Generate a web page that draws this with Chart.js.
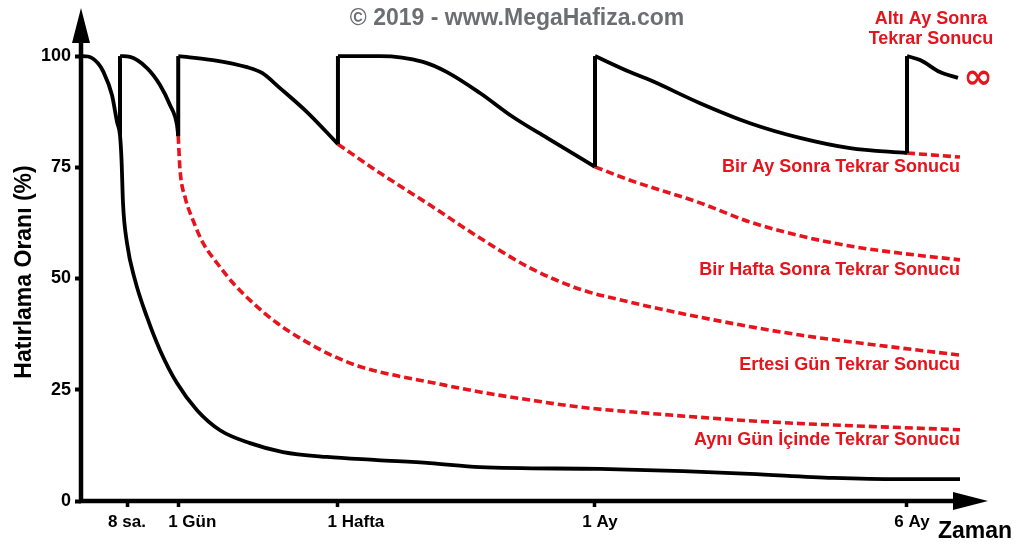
<!DOCTYPE html>
<html>
<head>
<meta charset="utf-8">
<script src="https://cdn.jsdelivr.net/npm/chart.js@4.4.1/dist/chart.umd.min.js"></script>
<style>
	html, body { margin: 0; padding: 0; background: #fff; }
	canvas { display: block; }
</style>
</head>
<body>
<canvas id="curve" width="1024" height="553"></canvas>
<script>

// time axis: position along the axis (0 = origin, 100 = arrow tip)
const tickPos   = [ 5.18, 10.72, 28.33, 56.67, 90.96 ];
const tickText  = [ '8 sa.', '1 Gün', '1 Hafta', '1 Ay', '6 Ay' ];
const tickShift = [ -1, 14, 18, 5, 6 ];	// labels are not centred on their ticks in the original
const yTicks    = [ 0, 25, 50, 75, 100 ];

// no review at all
const forget = [ [0,100], [0.77,99.9], [1.87,98.4], [2.43,96.6], [3.42,91.2], [3.97,85.2], [4.30,82.2], [4.47,76.6],
	[4.63,67.0], [5.07,58.0], [5.95,49.7], [7.28,41.3], [8.71,33.9], [10.58,26.5], [12.79,20.4],
	[15.33,15.9], [18.63,13.0], [22.27,11.0], [27.12,9.9], [32.64,9.2], [38.48,8.5], [43.99,7.6],
	[57.22,7.2], [66.37,6.7], [73.76,6.1], [82.91,5.2], [90.30,4.9], [96.91,4.9] ];

// black path after each review
const review8h = [ [4.30,100], [5.40,99.8], [7.28,97.3], [8.71,93.5], [9.81,89.0], [10.58,84.5], [10.72,82.0] ];
const review1d = [ [10.72,100], [14.55,99.1], [18.30,97.5], [19.96,96.2], [21.94,92.8], [24.92,87.4], [28.33,80.2] ];
const review1w = [ [28.33,100], [32.97,100], [37.71,98.7], [40.35,96.4], [43.99,91.7], [47.63,86.3], [51.38,81.6], [56.67,75.1] ];
const review1m = [ [56.67,100], [60.53,96.4], [62.73,94.6], [68.25,89.4], [73.76,84.9], [79.27,81.6], [84.78,79.3], [91.07,78.2] ];
const review6m = [ [91.07,100], [92.51,99.1], [94.71,96.4], [96.69,95.1] ];

// vertical jumps back to 100 at each review
const dropX   = [ 4.30, 10.72, 28.33, 56.67, 91.07 ];
const dropLow = [ 82.2, 82.0, 80.2, 75.1, 78.2 ];

// red dashed: what happens if the reviews stop there
const fadeSameDay = [ [10.72,82.0], [10.92,74.4], [11.47,68.3], [12.35,63.1], [13.45,58.0], [14.99,53.5],
	[16.76,49.0], [18.96,44.5], [21.61,40.0], [24.48,36.2], [27.78,32.6], [31.09,30.0], [34.5,28.3],
	[38.48,26.7], [43.99,24.5], [49.50,22.7], [55.01,21.1], [60.86,20.0], [75.63,17.8], [96.91,16.0] ];
const fadeNextDay = [ [28.33,80.2], [32.97,73.7], [38.48,66.5], [43.99,59.1], [49.50,52.4], [55.01,47.6],
	[60.53,44.7], [68.25,41.3], [79.27,37.3], [90.30,34.4], [96.91,32.8] ];
const fadeWeek  = [ [56.67,75.1], [60.53,72.1], [68.25,67.0], [73.76,62.7], [79.27,59.6], [84.78,57.3], [90.30,55.7], [96.91,54.2] ];
const fadeMonth = [ [91.07,78.2], [96.91,77.3] ];

const fadeLabels = [ 'Aynı Gün İçinde Tekrar Sonucu', 'Ertesi Gün Tekrar Sonucu', 'Bir Hafta Sonra Tekrar Sonucu', 'Bir Ay Sonra Tekrar Sonucu' ];
const topLabel = [ 'Altı Ay Sonra', 'Tekrar Sonucu' ];

const FONT = '"Liberation Sans", Arial, Helvetica, sans-serif';
const RED = '#e5141d';

const pts = a => a.map( p => ( { x: p[0], y: p[1] } ) );

const blackLine = a => ( {
	data: pts( a ),
	borderColor: '#000',
	borderWidth: 3.8,
	borderJoinStyle: 'round',
	cubicInterpolationMode: 'monotone',
	pointRadius: 0,
	fill: false
} );

const redLine = a => ( Object.assign( blackLine( a ), {
	borderColor: RED,
	borderWidth: 3.6,
	borderDash: [ 8, 4 ],
	borderJoinStyle: 'miter'
} ) );

const fades = [ fadeSameDay, fadeNextDay, fadeWeek, fadeMonth ];

const datasets = [
	blackLine( forget ),
	blackLine( review8h ), blackLine( review1d ), blackLine( review1w ), blackLine( review1m ), blackLine( review6m ),
	...dropX.map( ( x, i ) => ( {
		data: [ { x: x, y: dropLow[i] }, { x: x, y: 100 } ],
		borderColor: '#000', borderWidth: 4, pointRadius: 0, tension: 0, fill: false
	} ) ),
	...fades.map( redLine )
];

const decor = {
	id: 'decor',
	afterDatasetsDraw( chart ) {
		const { ctx, chartArea: a, scales: { x, y } } = chart;
		ctx.save();

		// axes with arrow heads
		ctx.strokeStyle = '#000';
		ctx.fillStyle = '#000';
		ctx.lineWidth = 4.5;
		ctx.beginPath();
		ctx.moveTo( a.left, a.bottom + 2 );
		ctx.lineTo( a.left, a.top + 34 );
		ctx.moveTo( a.left - 2, a.bottom );
		ctx.lineTo( a.right - 34, a.bottom );
		ctx.stroke();
		ctx.beginPath();
		ctx.moveTo( a.left, a.top );
		ctx.lineTo( a.left - 9, a.top + 35 );
		ctx.lineTo( a.left + 9, a.top + 35 );
		ctx.closePath();
		ctx.moveTo( a.right, a.bottom );
		ctx.lineTo( a.right - 35, a.bottom - 9 );
		ctx.lineTo( a.right - 35, a.bottom + 9 );
		ctx.closePath();
		ctx.fill();

		// time tick labels
		ctx.font = `bold 17px ${ FONT }`;
		ctx.textAlign = 'center';
		ctx.textBaseline = 'middle';
		tickPos.forEach( ( v, i ) => {
			ctx.fillText( tickText[i], x.getPixelForValue( v ) + tickShift[i], a.bottom + 21 );
		} );

		// watermark title
		ctx.fillStyle = '#6d6e71';
		ctx.font = `bold 23px ${ FONT }`;
		ctx.fillText( '© 2019 - www.MegaHafiza.com', 517, 19 );

		// axis titles
		ctx.fillStyle = '#000';
		ctx.font = `bold 23px ${ FONT }`;
		ctx.textAlign = 'left';
		ctx.textBaseline = 'alphabetic';
		ctx.fillText( 'Zaman', 938, 538 );

		ctx.save();
		ctx.translate( 25, 272 );
		ctx.rotate( -Math.PI / 2 );
		ctx.font = `bold 23px ${ FONT }`;
		ctx.textAlign = 'center';
		ctx.textBaseline = 'middle';
		ctx.fillText( 'Hatırlama Oranı (%)', 0, 0 );
		ctx.restore();

		// red labels under the end of each dashed curve
		ctx.fillStyle = RED;
		ctx.font = `bold 18px ${ FONT }`;
		ctx.textAlign = 'right';
		ctx.textBaseline = 'middle';
		fades.forEach( ( f, i ) => {
			const last = f[ f.length - 1 ];
			ctx.fillText( fadeLabels[i], x.getPixelForValue( last[0] ), y.getPixelForValue( last[1] ) + 10 );
		} );

		const s = x.getPixelForValue( review6m[0][0] );
		const t = y.getPixelForValue( review6m[0][1] );
		ctx.textAlign = 'center';
		ctx.fillText( topLabel[0], s + 24, t - 37 );
		ctx.fillText( topLabel[1], s + 24, t - 17 );

		const e = review6m[ review6m.length - 1 ];
		ctx.font = 'bold 35px "DejaVu Sans", sans-serif';
		ctx.fillText( '∞', x.getPixelForValue( e[0] ) + 20, y.getPixelForValue( e[1] ) + 1 );

		ctx.restore();
	}
};

new Chart( 'curve', {
	type: 'line',
	data: { datasets: datasets },
	plugins: [ decor ],
	options: {
		responsive: false,
		animation: false,
		layout: { padding: { left: 0, top: 8, right: 36, bottom: 0 } },
		plugins: {
			legend: { display: false },
			tooltip: { enabled: false },
			title: { display: false }
		},
		scales: {
			x: {
				type: 'linear',
				min: 0,
				max: 100,
				afterBuildTicks: s => { s.ticks = tickPos.map( v => ( { value: v } ) ); },
				afterFit: s => { s.height = 52; s.paddingLeft = 0; s.paddingRight = 0; },
				border: { display: false },
				grid: { drawOnChartArea: false, drawTicks: true, tickLength: 6, tickWidth: 3.5, tickColor: '#000' },
				ticks: { display: false }
			},
			y: {
				type: 'linear',
				min: 0,
				max: 110.8,
				afterBuildTicks: s => { s.ticks = yTicks.map( v => ( { value: v } ) ); },
				afterFit: s => { s.width = 81; s.paddingTop = 0; s.paddingBottom = 0; },
				border: { display: false },
				grid: { drawOnChartArea: false, drawTicks: true, tickLength: 6, tickWidth: 4, tickColor: '#000' },
				ticks: {
					font: { family: FONT, size: 18, weight: 'bold' },
					color: '#000',
					padding: 4
				}
			}
		}
	}
} );

</script>
</body>
</html>
